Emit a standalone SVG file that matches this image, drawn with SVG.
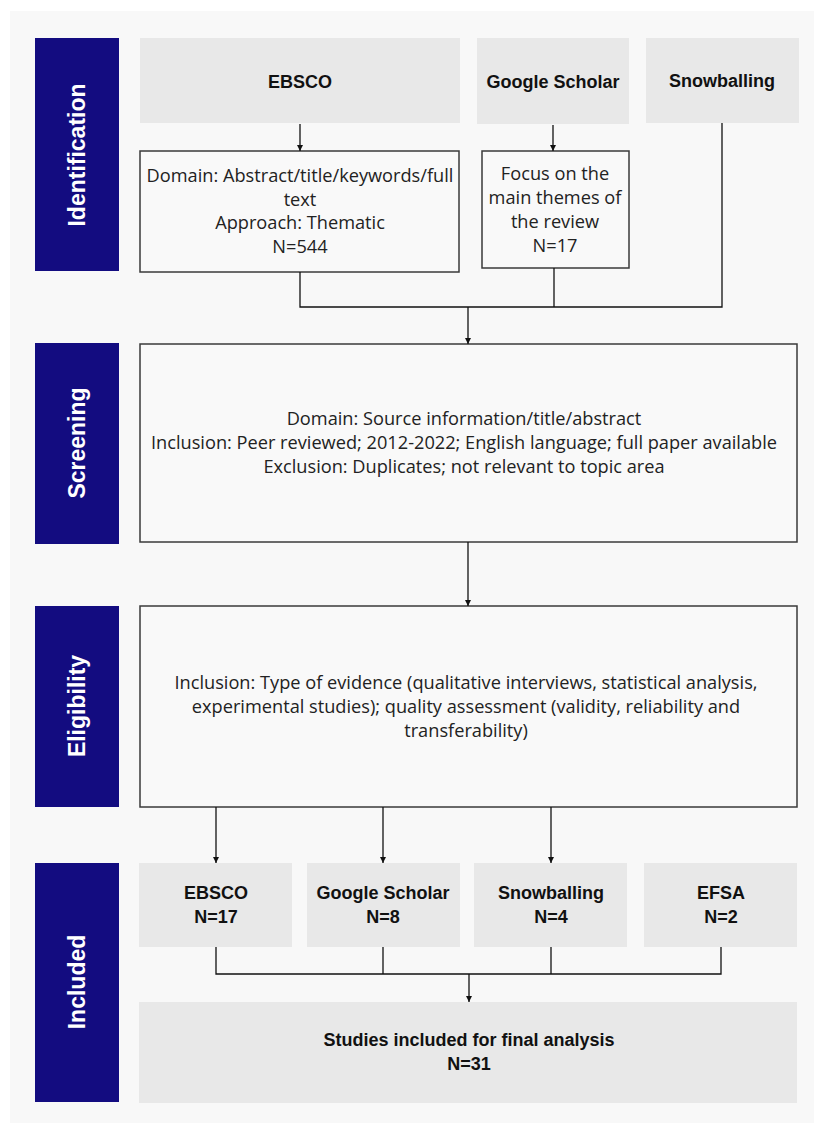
<svg xmlns="http://www.w3.org/2000/svg" width="814" height="1124" viewBox="0 0 814 1124">
<style>
.bar{fill:#130c80}
.hdr{fill:#e8e8e8}
.box{fill:#f9f9f9;stroke:#3a3a3a;stroke-width:1.5}
.lbl{font-family:"Liberation Sans",Arial,sans-serif;font-weight:bold;font-size:23px;fill:#ffffff;text-anchor:middle}
.bt{font-family:"Liberation Sans",Arial,sans-serif;font-weight:bold;font-size:18px;fill:#111;text-anchor:middle}
.tx{font-family:"Open Sans","Liberation Sans",Arial,sans-serif;font-size:18.2px;fill:#222;text-anchor:middle}
.cn{fill:none;stroke:#111;stroke-width:1.3}
</style>
<defs>
<marker id="ah" viewBox="0 0 10 10" refX="10" refY="5" markerWidth="6" markerHeight="6" markerUnits="userSpaceOnUse" orient="auto">
<path d="M0,0 L10,5 L0,10 Z" fill="#111"/>
</marker>
</defs>
<rect x="0" y="0" width="814" height="1124" fill="#ffffff"/>
<rect x="10" y="11" width="804" height="1112" fill="#f8f8f8"/>

<g id="stage-identification"><rect class="bar" x="35" y="38" width="84" height="233"/><text class="lbl" transform="translate(77,155) rotate(-90)" dy="8">Identification</text></g>
<g id="stage-screening"><rect class="bar" x="35" y="343" width="84" height="201"/><text class="lbl" transform="translate(77,443) rotate(-90)" dy="8">Screening</text></g>
<g id="stage-eligibility"><rect class="bar" x="35" y="606" width="84" height="201"/><text class="lbl" transform="translate(77,706) rotate(-90)" dy="8">Eligibility</text></g>
<g id="stage-included"><rect class="bar" x="35" y="863" width="84" height="239"/><text class="lbl" transform="translate(77,982) rotate(-90)" dy="8">Included</text></g>

<g id="ebsco-src"><rect class="hdr" x="140" y="38" width="320" height="85"/><text class="bt" x="300" y="88">EBSCO</text></g>
<g id="scholar-src"><rect class="hdr" x="477" y="38" width="152" height="86"/><text class="bt" x="553" y="88">Google Scholar</text></g>
<g id="snow-src"><rect class="hdr" x="646" y="38" width="153" height="85"/><text class="bt" x="722" y="87">Snowballing</text></g>

<g id="ebsco-search"><rect class="box" x="140" y="151" width="319" height="121"/>
<text class="tx" x="300" y="182">Domain: Abstract/title/keywords/full</text>
<text class="tx" x="300" y="206">text</text>
<text class="tx" x="300" y="229">Approach: Thematic</text>
<text class="tx" x="300" y="253">N=544</text></g>

<g id="scholar-search"><rect class="box" x="482" y="151" width="147" height="117"/>
<text class="tx" x="555" y="180">Focus on the</text>
<text class="tx" x="555" y="204">main themes of</text>
<text class="tx" x="555" y="228">the review</text>
<text class="tx" x="555" y="252">N=17</text></g>

<g id="screening"><rect class="box" x="140" y="344" width="657" height="198"/>
<text class="tx" x="464" y="425">Domain: Source information/title/abstract</text>
<text class="tx" x="464" y="449">Inclusion: Peer reviewed; 2012-2022; English language; full paper available</text>
<text class="tx" x="464" y="473">Exclusion: Duplicates; not relevant to topic area</text></g>

<g id="eligibility"><rect class="box" x="140" y="606" width="657" height="201"/>
<text class="tx" x="466" y="689">Inclusion: Type of evidence (qualitative interviews, statistical analysis,</text>
<text class="tx" x="466" y="713">experimental studies); quality assessment (validity, reliability and</text>
<text class="tx" x="466" y="737">transferability)</text></g>

<g id="inc-ebsco"><rect class="hdr" x="139" y="863" width="153" height="84"/><text class="bt" x="216" y="899">EBSCO</text><text class="bt" x="216" y="923">N=17</text></g>
<g id="inc-scholar"><rect class="hdr" x="307" y="863" width="153" height="84"/><text class="bt" x="383" y="899">Google Scholar</text><text class="bt" x="383" y="923">N=8</text></g>
<g id="inc-snow"><rect class="hdr" x="474" y="863" width="153" height="84"/><text class="bt" x="551" y="899">Snowballing</text><text class="bt" x="551" y="923">N=4</text></g>
<g id="inc-efsa"><rect class="hdr" x="644" y="863" width="153" height="84"/><text class="bt" x="721" y="899">EFSA</text><text class="bt" x="721" y="923">N=2</text></g>

<g id="final"><rect class="hdr" x="139" y="1002" width="658" height="101"/>
<text class="bt" x="469" y="1046">Studies included for final analysis</text>
<text class="bt" x="469" y="1070">N=31</text></g>

<g id="connectors">
<path class="cn" d="M300,124 V151" marker-end="url(#ah)"/>
<path class="cn" d="M553,125 V151" marker-end="url(#ah)"/>
<path class="cn" d="M300,272 V307 H722 V123"/>
<path class="cn" d="M554,268 V307"/>
<path class="cn" d="M468,307 V344" marker-end="url(#ah)"/>
<path class="cn" d="M468,542 V606" marker-end="url(#ah)"/>
<path class="cn" d="M216,807 V863" marker-end="url(#ah)"/>
<path class="cn" d="M383,807 V863" marker-end="url(#ah)"/>
<path class="cn" d="M551,807 V863" marker-end="url(#ah)"/>
<path class="cn" d="M216,947 V974 H721 V947"/>
<path class="cn" d="M383,947 V974"/>
<path class="cn" d="M551,947 V974"/>
<path class="cn" d="M469,974 V1002" marker-end="url(#ah)"/>
</g>
</svg>
